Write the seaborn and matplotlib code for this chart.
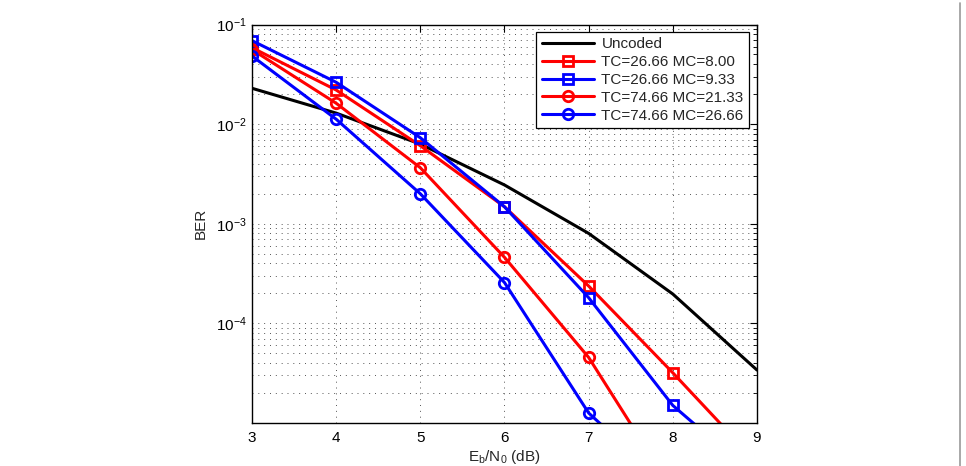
import matplotlib
matplotlib.use("Agg")
import matplotlib.pyplot as plt
import seaborn as sns
import pandas as pd
from matplotlib.lines import Line2D
from matplotlib.ticker import LogLocator, NullFormatter, FixedLocator

# ---- data ----
ebn0_uncoded = [3, 4, 5, 6, 7, 8, 9]
ber_uncoded = [0.0229, 0.0129, 0.0063, 0.00245, 0.00080, 0.000197, 0.000034]

ebn0_coded = [3, 4, 5, 6, 7, 8, 9]
ber_tc2666_mc800 = [0.0585, 0.0220, 0.00607, 0.00148, 0.000237, 0.0000319, 0.000004]
ber_tc2666_mc933 = [0.0689, 0.0263, 0.00730, 0.00148, 0.000181, 0.0000150, 0.0000028]
ber_tc7466_mc2133 = [0.0560, 0.0162, 0.00365, 0.00046, 0.0000455, 0.0000021, 0.0000002]
ber_tc7466_mc2666 = [0.0483, 0.0112, 0.00200, 0.000257, 0.0000126, 0.0000021, 0.0000002]

labels = ["Uncoded", "TC=26.66 MC=8.00", "TC=26.66 MC=9.33",
          "TC=74.66 MC=21.33", "TC=74.66 MC=26.66"]
x_ticks = [3, 4, 5, 6, 7, 8, 9]
y_ticks = [1e-4, 1e-3, 1e-2, 1e-1]

sns.set_theme(style="white")
plt.rcParams['font.family'] = ['Liberation Sans', 'DejaVu Sans']
plt.rcParams['mathtext.fontset'] = 'custom'
plt.rcParams['mathtext.rm'] = 'Liberation Sans'
plt.rcParams['mathtext.it'] = 'Liberation Sans:italic'
plt.rcParams['mathtext.bf'] = 'Liberation Sans:bold'

fig = plt.figure(figsize=(9.66, 4.66), dpi=100)
ax = fig.add_axes([252/966, 1-423/466, (757-252)/966, (423-24.5)/466])

series = [
    (ebn0_uncoded, ber_uncoded, labels[0], 'black', None),
    (ebn0_coded, ber_tc2666_mc800, labels[1], '#ff0000', 's'),
    (ebn0_coded, ber_tc2666_mc933, labels[2], '#0000ff', 's'),
    (ebn0_coded, ber_tc7466_mc2133, labels[3], '#ff0000', 'o'),
    (ebn0_coded, ber_tc7466_mc2666, labels[4], '#0000ff', 'o'),
]

for xs, ys, lab, col, mk in series:
    df = pd.DataFrame({"x": xs, "y": ys})
    kw = dict(lw=2.2, color=col, label=lab)
    if mk is not None:
        kw.update(marker=mk, markersize=7.5, markerfacecolor='none',
                  markeredgecolor=col, markeredgewidth=2)
    sns.lineplot(data=df, x="x", y="y", ax=ax, **kw)

ax.set_yscale('log')
ax.set_xlim(3, 9)
ax.set_ylim(1e-5, 1e-1)
ax.xaxis.set_major_locator(FixedLocator(x_ticks))
ax.set_xticklabels([str(t) for t in x_ticks])
ax.yaxis.set_major_locator(FixedLocator(y_ticks))
ax.yaxis.set_minor_locator(LogLocator(base=10, subs=range(2, 10), numticks=20))
ax.yaxis.set_minor_formatter(NullFormatter())

grid_kw = dict(color='#555555', linestyle=(0, (1, 5)), linewidth=0.7)
ax.grid(True, which='major', axis='both', **grid_kw)
ax.grid(True, which='minor', axis='y', **grid_kw)

ax.tick_params(axis='both', which='both', direction='in', top=True, right=True,
               colors='black', labelsize=11)
ax.tick_params(axis='both', which='major', length=5, width=0.8)
ax.tick_params(axis='y', which='minor', length=3, width=0.6)
ax.tick_params(axis='x', which='major', pad=6)
for s in ax.spines.values():
    s.set_visible(True)
    s.set_color('black')
    s.set_linewidth(1.0)

ax.set_xlabel(r"E$_{\mathrm{b}}$/N$_{\mathrm{0}}$ (dB)", fontsize=11, labelpad=2)
ax.set_ylabel("BER", fontsize=11, labelpad=6)

leg = ax.legend(loc='upper right', bbox_to_anchor=((749-252)/505, (423-32)/398.5),
                borderaxespad=0, fancybox=False, frameon=True, fontsize=11,
                handlelength=3.4, handletextpad=0.5, labelspacing=0.25,
                borderpad=0.35)
leg.get_frame().set_edgecolor('black')
leg.get_frame().set_linewidth(0.9)
leg.get_frame().set_alpha(1)

# page frame line on the right of the image
fig.add_artist(Line2D([960/966, 960/966], [0, 1 - 3/466], transform=fig.transFigure,
                      color='#999999', lw=1.2))

fig.savefig("out.png", dpi=100)
